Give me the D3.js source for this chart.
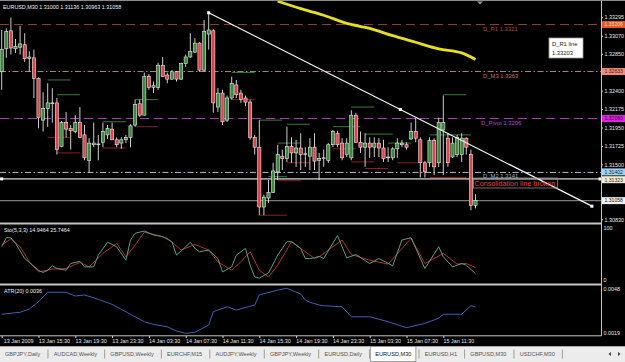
<!DOCTYPE html>
<html>
<head>
<meta charset="utf-8">
<script src="https://cdn.jsdelivr.net/npm/d3@7"></script>
<style>
  html, body { margin: 0; padding: 0; background: #000; }
  svg { display: block; font-family: "Liberation Sans", Arial, sans-serif; }
</style>
</head>
<body>
<svg id="chart" width="625" height="362"></svg>
<script>
// ---- data (EURUSD M30) ----
const symbolTitle = "EURUSD,M30";
const lastQuote = [1.31000, 1.31136, 1.30963, 1.31058]; // O H L C of current bar

const open = [1.3263,1.3291,1.3313,1.3291,1.3293,1.3296,1.3279,1.3280,1.3255,1.3204,
  1.3218,1.3224,1.3225,1.3172,1.3201,1.3194,1.3190,1.3201,1.3186,1.3155,
  1.3174,1.3174,1.3177,1.3186,1.3193,1.3180,1.3176,1.3180,1.3183,1.3198,
  1.3224,1.3210,1.3257,1.3244,1.3244,1.3271,1.3259,1.3254,1.3263,1.3254,
  1.3273,1.3281,1.3287,1.3298,1.3265,1.3309,1.3313,1.3220,1.3237,1.3204,
  1.3231,1.3247,1.3237,1.3231,1.3226,1.3183,1.3171,1.3098,1.3109,1.3116,
  1.3141,1.3160,1.3157,1.3172,1.3164,1.3170,1.3162,1.3160,1.3171,1.3155,
  1.3157,1.3155,1.3174,1.3188,1.3176,1.3162,1.3158,1.3210,1.3177,1.3171,
  1.3176,1.3171,1.3176,1.3170,1.3158,1.3158,1.3169,1.3174,1.3174,1.3181,
  1.3190,1.3180,1.3152,1.3152,1.3179,1.3152,1.3192,1.3182,1.3159,1.3162,
  1.3162,1.3182,1.3162,1.31000];
const high = [1.3314,1.3316,1.3329,1.3303,1.3319,1.3310,1.3288,1.3290,1.3256,1.3238,
  1.3249,1.3243,1.3231,1.3203,1.3214,1.3198,1.3210,1.3220,1.3198,1.3182,
  1.3201,1.3186,1.3201,1.3198,1.3201,1.3183,1.3183,1.3186,1.3199,1.3229,
  1.3229,1.3262,1.3260,1.3251,1.3274,1.3281,1.3262,1.3265,1.3264,1.3274,
  1.3284,1.3310,1.3304,1.3299,1.3326,1.3335,1.3315,1.3243,1.3241,1.3234,
  1.3257,1.3253,1.3241,1.3234,1.3229,1.3186,1.3204,1.3113,1.3131,1.3152,
  1.3174,1.3168,1.3196,1.3183,1.3180,1.3188,1.3171,1.3182,1.3188,1.3164,
  1.3168,1.3176,1.3192,1.3191,1.3182,1.3182,1.3216,1.3213,1.3190,1.3188,
  1.3183,1.3183,1.3182,1.3180,1.3171,1.3171,1.3182,1.3180,1.3177,1.3201,
  1.3207,1.3183,1.3154,1.3183,1.3182,1.3207,1.3234,1.3188,1.3183,1.3186,
  1.3188,1.3183,1.3168,1.31136];
const low = [1.3241,1.3280,1.3284,1.3286,1.3284,1.3275,1.3263,1.3231,1.3194,1.3190,
  1.3196,1.3201,1.3162,1.3171,1.3183,1.3168,1.3188,1.3182,1.3155,1.3140,
  1.3171,1.3155,1.3171,1.3181,1.3180,1.3171,1.3169,1.3176,1.3171,1.3196,
  1.3208,1.3210,1.3241,1.3237,1.3241,1.3257,1.3249,1.3253,1.3251,1.3253,
  1.3269,1.3280,1.3286,1.3263,1.3263,1.3290,1.3213,1.3214,1.3198,1.3202,
  1.3229,1.3231,1.3225,1.3221,1.3180,1.3162,1.3088,1.3088,1.3103,1.3115,
  1.3131,1.3143,1.3153,1.3152,1.3147,1.3143,1.3147,1.3143,1.3143,1.3131,
  1.3147,1.3152,1.3171,1.3171,1.3155,1.3159,1.3155,1.3176,1.3164,1.3147,
  1.3158,1.3159,1.3159,1.3153,1.3153,1.3155,1.3158,1.3171,1.3168,1.3180,
  1.3177,1.3134,1.3134,1.3147,1.3137,1.3147,1.3137,1.3147,1.3158,1.3159,
  1.3153,1.3162,1.3094,1.30963];
const close = [1.3290,1.3312,1.3292,1.3294,1.3297,1.3279,1.3281,1.3255,1.3207,1.3218,
  1.3225,1.3225,1.3168,1.3201,1.3193,1.3191,1.3201,1.3183,1.3158,1.3176,
  1.3176,1.3175,1.3190,1.3194,1.3180,1.3174,1.3180,1.3183,1.3197,1.3223,
  1.3210,1.3257,1.3244,1.3246,1.3271,1.3257,1.3254,1.3263,1.3254,1.3273,
  1.3281,1.3288,1.3298,1.3265,1.3312,1.3314,1.3225,1.3237,1.3202,1.3231,
  1.3249,1.3235,1.3229,1.3226,1.3183,1.3171,1.3098,1.3110,1.3116,1.3142,
  1.3162,1.3157,1.3172,1.3164,1.3170,1.3162,1.3163,1.3171,1.3154,1.3157,
  1.3158,1.3174,1.3190,1.3174,1.3158,1.3176,1.3210,1.3177,1.3171,1.3176,
  1.3171,1.3176,1.3170,1.3157,1.3159,1.3169,1.3176,1.3176,1.3171,1.3190,
  1.3182,1.3152,1.3141,1.3179,1.3147,1.3201,1.3201,1.3152,1.3176,1.3183,
  1.3182,1.3171,1.3100,1.31058];

// daily pivot levels
const levelNames  = ["D_R1", "D_M3", "D_Pivot", "D_M2"];
const levelPrices = [1.33206, 1.32633, 1.32060, 1.31402];
const levelLabels = ["1.3321", "1.3263", "1.3206", "1.3141"];
const consolidationPrice = 1.31323;

// short fractal segments [fromBar, toBar, price]
const upperSegments = [[10,15,1.3253],[12,17,1.3235],[22,27,1.3202],[29,34,1.3229],[50,55,1.3262],
  [56,61,1.3204],[58,62,1.3135],[60,65,1.3176],[62,67,1.3199],[72,78,1.3196],[76,81,1.3220],
  [79,85,1.3187],[84,89,1.3176],[93,102,1.3186],[96,101,1.3235]];
const lowerSegments = [[10,15,1.3183],[12,17,1.3164],[22,27,1.3170],[29,34,1.3196],[50,55,1.3229],
  [56,62,1.3088],[60,65,1.3130],[62,67,1.3152],[72,77,1.3169],[76,81,1.3153],[79,84,1.3145],
  [86,91,1.3152],[93,101,1.3134]];

// trend line anchors [bar, price]
const trendLine = [[45, 1.3335], [128.3, 1.3099]];
// yellow moving average (read at sample bars)
const maLine = [[60,1.3349],[65,1.3340],[70,1.3332],[75,1.3322],[80,1.3316],[85,1.3307],
  [90,1.3299],[95,1.3291],[100,1.3286],[103,1.3278]];

const priceTicks = [1.33295,1.33070,1.32850,1.32400,1.32175,1.31950,1.31725,1.31500,1.30830];

// Stochastic(5,3,3) main / signal [bar, value]
const stochMain = [[0,63],[1,79],[2,79],[3,69],[5,42],[8,21],[9,17],[10,21],[11,29],[12,24],
  [14,21],[15,33],[17,37],[18,27],[20,27],[21,48],[23,71],[25,63],[27,39],[28,75],
  [29,87],[31,91],[33,84],[35,81],[37,72],[38,48],[40,63],[41,71],[42,60],[43,54],
  [45,57],[47,42],[48,18],[50,27],[51,48],[53,60],[54,30],[55,9],[56,7],[58,16],
  [60,48],[62,72],[63,72],[65,60],[66,42],[67,42],[68,43],[69,46],[70,42],[73,83],
  [75,43],[77,49],[80,33],[82,42],[85,29],[87,75],[89,79],[92,24],[95,63],[96,45],
  [98,27],[100,33],[101,30],[103,14.9464]];
const stochSignal = [[0,66],[2,77],[4,63],[6,36],[8,18],[11,23],[14,24],[17,35],[19,27],[22,51],
  [25,69],[27,45],[29,66],[31,89],[34,83],[36,78],[39,57],[42,67],[45,57],[47,36],
  [50,21],[52,36],[54,54],[56,21],[58,9],[60,30],[63,72],[66,54],[68,42],[69,45],
  [74,75],[76,49],[80,39],[84,32],[89,78],[92,33],[96,51],[99,32],[101,33],[103,25.7464]];

// ATR(20) [bar, value]
const atr = [[0,0.00311],[4,0.00324],[6,0.00346],[8,0.00395],[9,0.00428],[10,0.00458],[14,0.00458],
  [16,0.00433],[18,0.00440],[21,0.00411],[24,0.00377],[26,0.00344],[29,0.00294],[31,0.00261],
  [33,0.00243],[36,0.00227],[38,0.00199],[40,0.00183],[42,0.00190],[45,0.00239],[46,0.00328],
  [49,0.00361],[51,0.00339],[55,0.00373],[56,0.00440],[60,0.00473],[62,0.00485],[65,0.00447],
  [66,0.00406],[67,0.00391],[69,0.00373],[70,0.00368],[74,0.00361],[76,0.00294],[80,0.00294],
  [84,0.00261],[88,0.00221],[92,0.00250],[95,0.00284],[96,0.00311],[100,0.00311],[102,0.00368],[103,0.0036]];

const timeTickBars = [0, 8, 16, 24, 32, 40, 48, 56, 64, 72, 80, 88, 96];
const timeLabels = ["13 Jan 2009","13 Jan 15:30","13 Jan 19:30","13 Jan 23:30","14 Jan 03:30",
  "14 Jan 07:30","14 Jan 11:30","14 Jan 15:30","14 Jan 19:30","14 Jan 23:30","15 Jan 03:30",
  "15 Jan 07:30","15 Jan 11:30"];

const tabNames = ["GBPJPY,Daily","AUDCAD,Weekly","GBPUSD,Weekly","EURCHF,M15","AUDJPY,Weekly",
  "GBPJPY,Weekly","EURUSD,Daily","EURUSD,M30","EURUSD,H1","GBPUSD,M30","USDCHF,M30"];
const activeTab = "EURUSD,M30";

// ---- layout ----
const svg = d3.select("#chart");
const plotR = 601;
const mainTop = 3, mainBot = 223;
const fs = 5.4;

const x = d3.scaleLinear().domain([0, 103]).range([1.7, 475.5]);
const y = d3.scaleLinear().domain([1.30785, 1.33469]).range([mainBot, mainTop]);
const yS = d3.scaleLinear().domain([0, 100]).range([282, 226]);
const yA = d3.scaleLinear().domain([0.0019, 0.0048]).range([332.3, 289]);

svg.append("rect").attr("width", 625).attr("height", 362).attr("fill", "#000");
svg.append("line").attr("x1", 0).attr("x2", 625).attr("y1", 0.5).attr("y2", 0.5)
  .attr("stroke", "#8a8a8a");

const defs = svg.append("defs");
defs.append("clipPath").attr("id", "clipMain").append("rect")
  .attr("x", 0).attr("y", 1).attr("width", plotR).attr("height", mainBot - 1);
defs.append("clipPath").attr("id", "clipSto").append("rect")
  .attr("x", 0).attr("y", 225).attr("width", plotR).attr("height", 58);
defs.append("clipPath").attr("id", "clipAtr").append("rect")
  .attr("x", 0).attr("y", 286).attr("width", plotR).attr("height", 49);

const gMain = svg.append("g").attr("clip-path", "url(#clipMain)");

// pivot levels
const levelStyle = {
  D_R1:    { stroke: "#93402f", dash: "9,5",        text: "#b24a36" },
  D_M3:    { stroke: "#a58878", dash: "6,2.5,1.5,2.5", text: "#c2705e" },
  D_Pivot: { stroke: "#b03cb0", dash: "9,5",        text: "#c444c4" },
  D_M2:    { stroke: "#aebccc", dash: "6,2.5,1.5,2.5", text: "#8fb3d3" }
};
levelNames.forEach((name, i) => {
  const st = levelStyle[name];
  gMain.append("line")
    .attr("x1", 0).attr("x2", plotR)
    .attr("y1", y(levelPrices[i])).attr("y2", y(levelPrices[i]))
    .attr("stroke", st.stroke).attr("stroke-width", 1).attr("stroke-dasharray", st.dash);
  gMain.append("text")
    .attr("x", name === "D_Pivot" ? 481 : 483).attr("y", y(levelPrices[i]) + (name === "D_M2" ? 5.6 : 6.5))
    .attr("fill", st.text).attr("font-size", 5.9)
    .text(name + " " + levelLabels[i]);
});

// consolidation line and current price line
gMain.append("line").attr("x1", 0).attr("x2", plotR)
  .attr("y1", y(consolidationPrice)).attr("y2", y(consolidationPrice))
  .attr("stroke", "#9a9a9a").attr("stroke-width", 1.8);
gMain.append("line").attr("x1", 0).attr("x2", plotR)
  .attr("y1", y(lastQuote[3])).attr("y2", y(lastQuote[3]))
  .attr("stroke", "#7a7a7a").attr("stroke-width", 1.3);

// fractal segments
gMain.selectAll("line.up").data(upperSegments).join("line")
  .attr("x1", d => x(d[0])).attr("x2", d => x(d[1]))
  .attr("y1", d => y(d[2])).attr("y2", d => y(d[2]))
  .attr("stroke", "#3f8a3f").attr("stroke-width", 0.9);
gMain.selectAll("line.dn").data(lowerSegments).join("line")
  .attr("x1", d => x(d[0])).attr("x2", d => x(d[1]))
  .attr("y1", d => y(d[2])).attr("y2", d => y(d[2]))
  .attr("stroke", "#9a2222").attr("stroke-width", 0.9);

// candles
const candles = open.map((o, i) => ({ i, o, h: high[i], l: low[i], c: close[i] }));
gMain.selectAll("line.wick").data(candles).join("line")
  .attr("x1", d => x(d.i)).attr("x2", d => x(d.i))
  .attr("y1", d => y(d.h)).attr("y2", d => y(d.l))
  .attr("stroke", "#e4e4e4").attr("stroke-width", 0.9);
gMain.selectAll("rect.body").data(candles).join("rect")
  .attr("x", d => x(d.i) - 1.6).attr("width", 3.2)
  .attr("y", d => y(Math.max(d.o, d.c)))
  .attr("height", d => Math.max(0.8, Math.abs(y(d.o) - y(d.c))))
  .attr("fill", d => d.c >= d.o ? "#3b8a3b" : "#e0444a")
  .attr("stroke", "#e8e8e8").attr("stroke-width", 0.6);

// yellow MA
gMain.append("path").datum(maLine)
  .attr("d", d3.line().x(d => x(d[0])).y(d => y(d[1])).curve(d3.curveMonotoneX))
  .attr("fill", "none").attr("stroke", "#e6df1c").attr("stroke-width", 2.8);

// trend line with anchors
gMain.append("line")
  .attr("x1", x(trendLine[0][0])).attr("y1", y(trendLine[0][1]))
  .attr("x2", x(trendLine[1][0])).attr("y2", y(trendLine[1][1]))
  .attr("stroke", "#f4f4f4").attr("stroke-width", 1.3);
const tMid = [(trendLine[0][0] + trendLine[1][0]) / 2, (trendLine[0][1] + trendLine[1][1]) / 2];
[trendLine[0], tMid, trendLine[1], [0, consolidationPrice]].forEach(p => {
  gMain.append("rect").attr("x", x(p[0]) - 1.5).attr("y", y(p[1]) - 1.5)
    .attr("width", 3).attr("height", 3).attr("fill", "#fff");
});

// chart shift marker
svg.append("path").attr("d", "M477,1.5 L483,1.5 L480,4.5 Z").attr("fill", "#9a9a9a");

// "Consolidation line broken" label
gMain.append("rect").attr("x", 473.5).attr("y", 178).attr("width", 84).attr("height", 10)
  .attr("fill", "none").attr("stroke", "#8a8a8a").attr("stroke-width", 0.8);
gMain.append("text").attr("x", 474.5).attr("y", 186).attr("fill", "#e0403c")
  .attr("font-size", 7.2).text("Consolidation line broken");

// tooltip
const tip = svg.append("g");
tip.append("rect").attr("x", 549).attr("y", 38).attr("width", 34).attr("height", 20)
  .attr("fill", "#fff").attr("stroke", "#9a9a9a").attr("stroke-width", 0.8);
tip.append("text").attr("x", 552).attr("y", 46).attr("font-size", 5.8).attr("fill", "#222").text("D_R1 line");
tip.append("text").attr("x", 552).attr("y", 54.5).attr("font-size", 5.8).attr("fill", "#222").text("1.33203");

// title
svg.append("text").attr("x", 3).attr("y", 8.8).attr("font-size", fs).attr("fill", "#f0f0f0")
  .text(symbolTitle + "  " + lastQuote.map(v => v.toFixed(5)).join(" "));

// ---- right price axis ----
const axisMain = svg.append("g").attr("transform", `translate(${plotR},0)`)
  .call(d3.axisRight(y).tickValues(priceTicks).tickSize(2).tickPadding(1.5).tickFormat(d3.format(".5f")));
axisMain.select(".domain").remove();
axisMain.selectAll("line").attr("stroke", "#d8d8d8");
axisMain.selectAll("text").attr("fill", "#e8e8e8").attr("font-size", fs)
  .attr("font-family", "Liberation Sans, Arial, sans-serif");

// price boxes on the axis
const boxPrices = [levelPrices[0], levelPrices[1], levelPrices[2], levelPrices[3], consolidationPrice, lastQuote[3]];
const boxFill = ["#e35a26", "#f08a7a", "#df22df", "#9fd2f0", "#f3ead2", "#f2f2f2"];
const boxText = ["#ffd7c8", "#5a1a12", "#3a003a", "#123040", "#333", "#111"];
const boxShift = [0, 0, 0, -0.5, 0.8, 0];
boxPrices.forEach((p, i) => {
  const yy = y(p) + boxShift[i];
  svg.append("rect").attr("x", 602).attr("y", yy - 3.5).attr("width", 23).attr("height", 7)
    .attr("fill", boxFill[i]);
  svg.append("text").attr("x", 604.5).attr("y", yy + 1.8).attr("font-size", 5.1)
    .attr("fill", boxText[i]).text(p.toFixed(5));
});
svg.append("rect").attr("x", 598.5).attr("y", y(consolidationPrice) - 1.5)
  .attr("width", 3).attr("height", 3).attr("fill", "#fff");

// ---- stochastic panel ----
const gSto = svg.append("g").attr("clip-path", "url(#clipSto)");
const lineS = d3.line().x(d => x(d[0])).y(d => yS(d[1]));
gSto.append("path").datum(stochSignal).attr("d", lineS)
  .attr("fill", "none").attr("stroke", "#b8302c").attr("stroke-width", 1);
gSto.append("path").datum(stochMain).attr("d", lineS)
  .attr("fill", "none").attr("stroke", "#5aa083").attr("stroke-width", 1);
svg.append("text").attr("x", 4).attr("y", 232).attr("font-size", fs).attr("fill", "#f0f0f0")
  .text(`Sto(5,3,3) ${stochMain[stochMain.length - 1][1].toFixed(4)} ${stochSignal[stochSignal.length - 1][1].toFixed(4)}`);
const axisSto = svg.append("g").attr("transform", `translate(${plotR},0)`)
  .call(d3.axisRight(yS).tickValues([0, 100]).tickSize(0).tickPadding(2.5).tickFormat(d3.format("d")));
axisSto.select(".domain").remove();
axisSto.selectAll("text").attr("fill", "#e8e8e8").attr("font-size", fs)
  .attr("font-family", "Liberation Sans, Arial, sans-serif").attr("dy", (d) => d === 100 ? "0.32em" : "-0.1em")
  .attr("transform", d => d === 100 ? "translate(0,1.6)" : "translate(0,0)");

// ---- ATR panel ----
const gAtr = svg.append("g").attr("clip-path", "url(#clipAtr)");
gAtr.append("path").datum(atr)
  .attr("d", d3.line().x(d => x(d[0])).y(d => yA(d[1])))
  .attr("fill", "none").attr("stroke", "#3e62b6").attr("stroke-width", 1);
svg.append("text").attr("x", 4).attr("y", 293).attr("font-size", fs).attr("fill", "#f0f0f0")
  .text(`ATR(20) ${atr[atr.length - 1][1].toFixed(4)}`);
const axisAtr = svg.append("g").attr("transform", `translate(${plotR},0)`)
  .call(d3.axisRight(yA).tickValues([0.0019, 0.0048]).tickSize(0).tickPadding(2.5).tickFormat(d3.format(".4f")));
axisAtr.select(".domain").remove();
axisAtr.selectAll("text").attr("fill", "#e8e8e8").attr("font-size", fs)
  .attr("font-family", "Liberation Sans, Arial, sans-serif");

// panel separators and frame
[223.5, 284.5].forEach(v => {
  svg.append("line").attr("x1", 0).attr("x2", plotR).attr("y1", v).attr("y2", v)
    .attr("stroke", "#c4c4c4").attr("stroke-width", 1.8);
});
svg.append("line").attr("x1", 0).attr("x2", plotR + 0.5).attr("y1", 335.8).attr("y2", 335.8)
  .attr("stroke", "#c4c4c4").attr("stroke-width", 1);
svg.append("line").attr("x1", plotR + 0.5).attr("x2", plotR + 0.5).attr("y1", 1).attr("y2", 336)
  .attr("stroke", "#c4c4c4").attr("stroke-width", 1);

// ---- time axis ----
const axisTime = svg.append("g").attr("transform", "translate(0,336)")
  .call(d3.axisBottom(x).tickValues(timeTickBars).tickSize(2).tickPadding(1)
    .tickFormat((d, i) => timeLabels[i]));
axisTime.select(".domain").remove();
axisTime.selectAll("line").attr("stroke", "#d8d8d8");
axisTime.selectAll("text").attr("fill", "#e8e8e8").attr("font-size", fs)
  .attr("font-family", "Liberation Sans, Arial, sans-serif")
  .attr("text-anchor", "start").attr("dx", d => d === 0 ? 1.5 : -0.3);

// ---- tab bar ----
const tabs = svg.append("g");
tabs.append("rect").attr("x", 0).attr("y", 346).attr("width", 625).attr("height", 16).attr("fill", "#ececec");
tabs.append("line").attr("x1", 0).attr("x2", 625).attr("y1", 346.5).attr("y2", 346.5).attr("stroke", "#a8a8a8");
let tx = 5;
tabNames.forEach(name => {
  const isActive = name === activeTab;
  const t = tabs.append("text").attr("y", 355.5).attr("font-size", 5.6)
    .attr("fill", isActive ? "#111" : "#555").text(name);
  const w = t.node().getComputedTextLength();
  if (isActive) {
    tabs.insert("rect", "text").attr("x", tx - 5).attr("y", 346.5).attr("width", w + 9.5).attr("height", 15)
      .attr("fill", "#fff").attr("stroke", "#888").attr("stroke-width", 0.8);
  }
  t.attr("x", tx);
  const sx = tx + w + 7.6;
  tabs.append("line").attr("x1", sx).attr("x2", sx).attr("y1", 349.5).attr("y2", 358.5)
    .attr("stroke", "#888").attr("stroke-width", 0.8);
  tx = sx + 5.7;
});
tabs.append("path").attr("d", "M608.5,354 L611,352 L611,356 Z").attr("fill", "#444");
tabs.append("path").attr("d", "M620.5,354 L618,352 L618,356 Z").attr("fill", "#444");
</script>
</body>
</html>
